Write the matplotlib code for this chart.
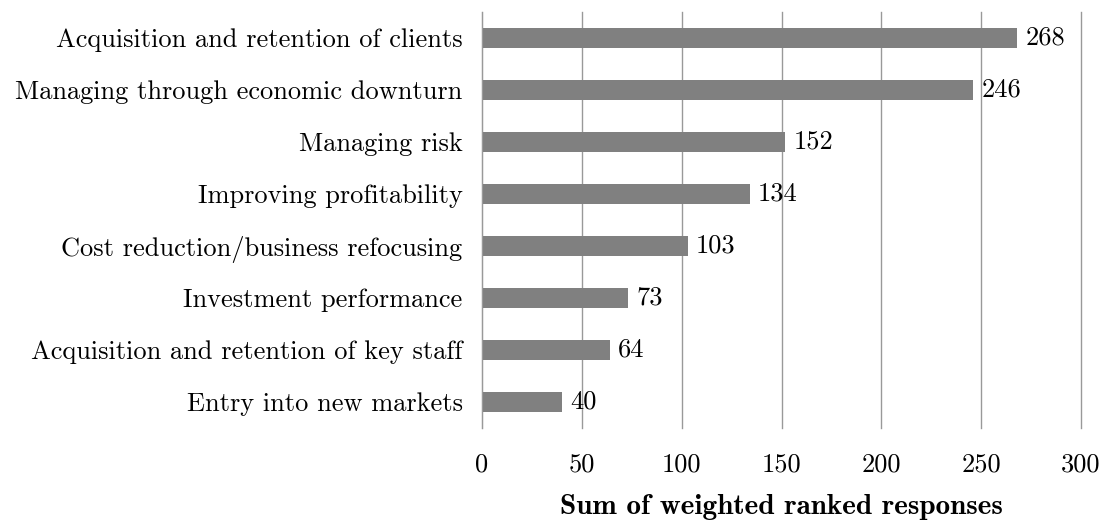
import matplotlib
matplotlib.use("Agg")
import matplotlib.pyplot as plt

categories = [
    "Acquisition and retention of clients",
    "Managing through economic downturn",
    "Managing risk",
    "Improving profitability",
    "Cost reduction/business refocusing",
    "Investment performance",
    "Acquisition and retention of key staff",
    "Entry into new markets",
]
values = [268, 246, 152, 134, 103, 73, 64, 40]
xticks = [0, 50, 100, 150, 200, 250, 300]

plt.rcParams['font.family'] = ['cmr10', 'DejaVu Serif']
plt.rcParams['axes.formatter.use_mathtext'] = True

fig = plt.figure(figsize=(11.04, 5.24), dpi=100)
ax = fig.add_axes([482/1104, 1 - 428/524, (1081-482)/1104, (428-12)/524])

ypos = list(range(len(categories)))
bars = ax.barh(ypos, values, height=0.4, color='#808080', zorder=3)
ax.set_ylim(len(categories) - 0.5, -0.5)
ax.set_xlim(0, 300)
ax.set_yticks(ypos)
ax.set_yticklabels(categories, fontsize=19)
ax.set_xticks(xticks)
ax.set_xticklabels([str(t) for t in xticks], fontsize=19)
ax.tick_params(axis='both', length=0)
ax.tick_params(axis='x', pad=18)
ax.tick_params(axis='y', pad=14)

ax.grid(axis='x', color='#999999', linewidth=1, zorder=0)
for line in ax.get_xgridlines():
    line.set_clip_on(False)
for s in ['top', 'right', 'bottom']:
    ax.spines[s].set_visible(False)
ax.spines['left'].set_color('#999999')
ax.spines['left'].set_zorder(4)

for b, v in zip(bars, values):
    ax.annotate(str(v), (v, b.get_y() + b.get_height() / 2), xytext=(6, 0),
                textcoords='offset points', va='center', ha='left', fontsize=19)

ax.set_xlabel("Sum of weighted ranked responses", fontsize=21,
              fontfamily=['cmb10', 'DejaVu Serif'])
ax.xaxis.set_label_coords(0.5, -0.158)

fig.savefig("out.png", dpi=100)
